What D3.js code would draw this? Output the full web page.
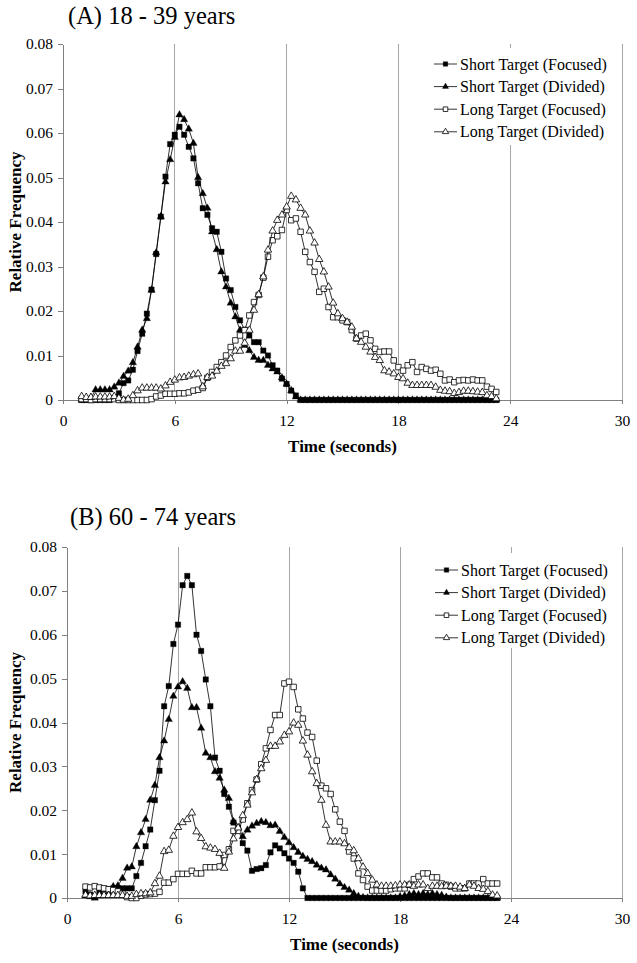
<!DOCTYPE html>
<html><head><meta charset="utf-8">
<script src="https://cdn.jsdelivr.net/npm/d3@7"></script>
<style>body{margin:0;background:#fff}svg{display:block}</style>
</head><body><svg id="c" width="637" height="963"></svg>
<script>
// time in seconds (0.25 s bins, 1.00 .. 23.25)
const times = d3.range(4, 94).map(i => i / 4);
const xTicks = [0, 6, 12, 18, 24, 30];
const yTicks = [0, 0.01, 0.02, 0.03, 0.04, 0.05, 0.06, 0.07, 0.08];
const seriesNames = ["Short Target (Focused)", "Short Target (Divided)", "Long Target (Focused)", "Long Target (Divided)"];
const panelTitles = ["(A) 18 - 39 years", "(B) 60 - 74 years"];

// Panel A : 18 - 39 years
const aShortFocused = [
 0,0,0,0, 0,0,0,0.0005, 0.0015,0.0038,0.0044,0.0068, 0.011,0.0149,0.0194,0.0248,
 0.0328,0.0412,0.0502,0.0575, 0.0596,0.0614,0.0596,0.0569, 0.0543,0.0487,0.0431,0.0416,
 0.0386,0.0378,0.0333,0.0273, 0.0247,0.0209,0.0179,0.0158, 0.0145,0.013,0.013,0.0111,
 0.01,0.0078,0.0066,0.0048, 0.0036,0.0021,0.001,0,
 0,0,0,0, 0,0,0,0, 0,0,0,0, 0,0,0,0, 0,0,0,0, 0,0,0,0, 0,0,0,0, 0,0,0,0, 0,0,0,0, 0,0,0,0, 0,0];
const aShortDivided = [
 0,0,0.0005,0.0023, 0.0023,0.0023,0.0023,0.0029, 0.0038,0.0053,0.0065,0.0084, 0.0119,0.0157,0.0183,0.0247,
 0.0331,0.0412,0.049,0.054, 0.059,0.0641,0.063,0.0609, 0.0577,0.05,0.0464,0.0431,
 0.0378,0.0338,0.0288,0.0254, 0.0218,0.0187,0.0157,0.0123, 0.0111,0.0096,0.0089,0.0089,
 0.0078,0.007,0.0063,0.005, 0.0036,0.0021,0.0007,0,
 0,0,0,0, 0,0,0,0, 0,0,0,0, 0,0,0,0, 0,0,0,0, 0,0,0,0, 0,0,0,0, 0,0,0,0, 0,0,0,0, 0,0,0,0, 0,0];
const aLongFocused = [
 0.0002,0.0002,0,0.0002, 0.0002,0.0002,0.0002,0.0002, 0,0,0,0, 0,0,0,0.0002,
 0.0008,0.001,0.0014,0.0014, 0.0014,0.0015,0.0015,0.0017, 0.0021,0.0023,0.0027,0.005,
 0.0063,0.0074,0.0085,0.01, 0.0119,0.0134,0.0145,0.0157, 0.019,0.022,0.0236,0.0275,
 0.0322,0.0359,0.0368,0.0382, 0.0427,0.0404,0.0408,0.0378, 0.0333,0.031,0.0288,0.0243,
 0.025,0.0209,0.0186,0.0186, 0.0179,0.0175,0.0157,0.0138, 0.0145,0.0149,0.0134,0.0115,
 0.0108,0.0109,0.0109,0.0089, 0.0074,0.0066,0.0078,0.0085, 0.0063,0.0074,0.007,0.0066,
 0.0068,0.0059,0.0044,0.0046, 0.004,0.0044,0.0045,0.0044, 0.0046,0.0044,0.0044,0.003, 0.0025,0.0018];
const aLongDivided = [
 0.0008,0.0006,0.0006,0.0007, 0.0007,0.0007,0.0007,0.0008, 0.0004,0,0.0002,0.001, 0.0021,0.0027,0.0027,0.0027,
 0.0027,0.0025,0.0032,0.004, 0.0045,0.005,0.0051,0.0054, 0.0057,0.0059,0.003,0.0051,
 0.0054,0.0065,0.0076,0.0082, 0.0093,0.011,0.011,0.0128, 0.0157,0.0202,0.0237,0.0277,
 0.0337,0.038,0.0404,0.0416, 0.0434,0.0458,0.045,0.0431, 0.0416,0.038,0.0353,0.0316,
 0.0288,0.0254,0.0218,0.0194, 0.0183,0.0175,0.0164,0.0138, 0.013,0.0119,0.0108,0.0096,
 0.0089,0.0066,0.0063,0.0059, 0.0051,0.0048,0.0038,0.0033, 0.0033,0.0033,0.0033,0.0033,
 0.0029,0.0022,0.002,0.0019, 0.0015,0.0017,0.002,0.002, 0.0019,0.0018,0.0017,0.001, 0.0008,0.0003];

// Panel B : 60 - 74 years
const bShortFocused = [
 0.0015,0.0008,0.0003,0.0015, 0.002,0.002,0.0022,0.0022, 0.0022,0.0022,0.0022,0.005, 0.008,0.0118,0.0156,0.0223,
 0.029,0.0437,0.0483,0.0579, 0.0623,0.0713,0.0734,0.0713, 0.06,0.0563,0.0498,0.0437,
 0.032,0.029,0.0237,0.0208, 0.0172,0.016,0.0125,0.0108, 0.0062,0.0066,0.0068,0.0075,
 0.0104,0.012,0.0113,0.0102, 0.009,0.008,0.006,0.0022,
 0,0,0,0, 0,0,0,0, 0,0,0,0, 0,0,0,0, 0,0,0,0, 0,0,0,0, 0,0,0,0, 0,0,0,0, 0,0,0,0, 0,0,0,0, 0,0];
const bShortDivided = [
 0.0005,0.0003,0,0.0005, 0.0008,0.0012,0.0026,0.0028, 0.0045,0.0068,0.0071,0.0117, 0.0149,0.0179,0.0223,0.0257,
 0.032,0.0358,0.0407,0.046, 0.0481,0.0493,0.0478,0.0434, 0.0434,0.0387,0.033,0.032,
 0.0288,0.0273,0.0246,0.0227, 0.0174,0.016,0.014,0.0155, 0.0164,0.017,0.0174,0.0172,
 0.0165,0.0166,0.0152,0.0138, 0.0126,0.0115,0.0104,0.0095, 0.0088,0.0083,0.0075,0.0068,
 0.0064,0.0053,0.0043,0.0032, 0.0024,0.0018,0.001,0.0004, 0.0001,0,0,0, 0,0,0,0,
 0.0003,0.0005,0.0008,0.001, 0.0008,0.001,0.0008,0.001, 0.0008,0.0006,0.0002,0,
 0,0,0,0, 0,0,0,0, 0,0];
const bLongFocused = [
 0.0026,0.0024,0.0027,0.0024, 0.0022,0.002,0.0018,0.0015, 0.001,0.0002,0,0, 0.0005,0.0008,0.0009,0.001,
 0.0014,0.0035,0.0035,0.0043, 0.0055,0.0055,0.0055,0.0062, 0.0056,0.0056,0.007,0.007,
 0.007,0.0072,0.0098,0.0111, 0.0153,0.0153,0.0179,0.0216, 0.0246,0.027,0.0305,0.0341,
 0.0383,0.0417,0.0417,0.0489, 0.0493,0.0481,0.043,0.0409, 0.0377,0.0367,0.0313,0.0256,
 0.025,0.0237,0.0202,0.0174, 0.0153,0.0106,0.009,0.0056, 0.0041,0.0026,0.0017,0.0017,
 0.0017,0.0017,0.002,0.0022, 0.0022,0.0022,0.003,0.0043, 0.0049,0.0056,0.0056,0.0047,
 0.0047,0.0033,0.003,0.0026, 0.0022,0.0022,0.0022,0.0033, 0.0033,0.0033,0.0043,0.0033, 0.0033,0.0033];
const bLongDivided = [
 0.0007,0.0005,0.0006,0.0006, 0.0006,0.0006,0.0006,0.0006, 0.0006,0.0004,0.0004,0.0008, 0.001,0.001,0.0012,0.0033,
 0.005,0.0106,0.0109,0.0141, 0.0161,0.0172,0.0179,0.0194, 0.0151,0.0136,0.0117,0.0114,
 0.0111,0.0102,0.0068,0.0105, 0.0135,0.016,0.0188,0.0212, 0.024,0.027,0.0295,0.0314,
 0.0346,0.0346,0.0356,0.0371, 0.0379,0.0399,0.0394,0.0358, 0.0326,0.0288,0.0261,0.0223,
 0.0166,0.0128,0.0128,0.0128, 0.0124,0.0115,0.0108,0.009, 0.0071,0.0056,0.0041,0.003,
 0.0027,0.0027,0.0027,0.0028, 0.003,0.003,0.003,0.0027, 0.003,0.003,0.0022,0.0027,
 0.0027,0.0026,0.0027,0.0027, 0.0027,0.0025,0.0022,0.003, 0.0027,0.0022,0.002,0.0015, 0.0007,0.0005];

const FONT = "'Liberation Serif', 'Tinos', 'Times New Roman', 'DejaVu Serif', serif";

const markerTypes = [
 {shape: d3.symbolSquare, fill: "#000", size: 30},
 {shape: d3.symbolTriangle, fill: "#000", size: 24},
 {shape: d3.symbolSquare, fill: "#fff", size: 30},
 {shape: d3.symbolTriangle, fill: "#fff", size: 24}
];

const svg = d3.select("#c");

function drawPanel(cfg) {
  const g = svg.append("g").attr("font-family", FONT);
  const x = d3.scaleLinear().domain([0, 30]).range([cfg.left, cfg.right]);
  const y = d3.scaleLinear().domain([0, 0.08]).range([cfg.bottom, cfg.top]);

  // vertical gridlines
  g.append("g").selectAll("line").data(xTicks.filter(d => d > 0)).join("line")
    .attr("x1", d => x(d)).attr("x2", d => x(d))
    .attr("y1", y(0.08)).attr("y2", y(0))
    .attr("stroke", "#a6a6a6").attr("stroke-width", 1).attr("shape-rendering", "crispEdges");

  // axes
  const yAxis = d3.axisLeft(y).tickValues(yTicks).tickSize(5).tickSizeOuter(0).tickPadding(5)
    .tickFormat(d => d === 0 ? "0" : d3.format(".2f")(d));
  const ya = g.append("g").attr("transform", `translate(${cfg.left},0)`).call(yAxis);
  const xAxis = d3.axisBottom(x).tickValues(xTicks).tickSize(4).tickSizeOuter(0).tickPadding(11);
  const xa = g.append("g").attr("transform", `translate(0,${cfg.bottom})`).call(xAxis);
  [ya, xa].forEach(a => {
    a.attr("font-family", FONT).attr("font-size", 15.5);
    a.select(".domain").attr("stroke", "#808080").attr("shape-rendering", "crispEdges");
    a.selectAll(".tick line").attr("stroke", "#808080").attr("shape-rendering", "crispEdges");
    a.selectAll("text").attr("fill", "#000");
  });

  // series
  cfg.series.forEach((vals, si) => {
    const pts = times.map((t, i) => [t, vals[i]]);
    const line = d3.line().x(d => x(d[0])).y(d => y(d[1]));
    g.append("path").datum(pts).attr("d", line)
      .attr("fill", "none").attr("stroke", "#000").attr("stroke-width", 0.8);
    const m = markerTypes[si];
    const sym = d3.symbol().type(m.shape).size(m.size);
    g.append("g").selectAll("path").data(pts).join("path")
      .attr("d", sym)
      .attr("transform", d => `translate(${x(d[0])},${y(d[1])})`)
      .attr("fill", m.fill).attr("stroke", "#000").attr("stroke-width", m.fill === "#000" ? 0.3 : 0.8);
  });

  // legend (white box hiding gridline)
  const lg = g.append("g");
  lg.append("rect").attr("x", cfg.legX - 8).attr("y", cfg.legTop).attr("width", 192).attr("height", cfg.legH).attr("fill", "#fff");
  seriesNames.forEach((name, i) => {
    const cy = cfg.legRow0 + i * cfg.legStep;
    lg.append("line").attr("x1", cfg.legX).attr("x2", cfg.legX + 23).attr("y1", cy).attr("y2", cy)
      .attr("stroke", "#000").attr("stroke-width", 0.8);
    const m = markerTypes[i];
    lg.append("path").attr("d", d3.symbol().type(m.shape).size(m.size * 0.7))
      .attr("transform", `translate(${cfg.legX + 11.5},${cy})`)
      .attr("fill", m.fill).attr("stroke", "#000").attr("stroke-width", m.fill === "#000" ? 0.3 : 0.8);
    lg.append("text").attr("x", cfg.legX + 26).attr("y", cy + 5.5).attr("font-size", 16).text(name);
  });

  // titles
  g.append("text").attr("x", cfg.titleX).attr("y", cfg.titleY).attr("font-size", 24.5).text(cfg.title);
  g.append("text").attr("x", (cfg.left + cfg.right) / 2).attr("y", cfg.bottom + 52)
    .attr("text-anchor", "middle").attr("font-size", 17).attr("font-weight", "bold").text("Time (seconds)");
  g.append("text").attr("transform", `translate(21,${(cfg.top + cfg.bottom) / 2}) rotate(-90)`)
    .attr("text-anchor", "middle").attr("font-size", 17).attr("font-weight", "bold").text("Relative Frequency");
}

drawPanel({title: panelTitles[0], series: [aShortFocused, aShortDivided, aLongFocused, aLongDivided],
  left: 63, right: 622, top: 44, bottom: 400, titleX: 68, titleY: 24,
  legX: 434, legTop: 48, legH: 97, legRow0: 64, legStep: 22.6});
drawPanel({title: panelTitles[1], series: [bShortFocused, bShortDivided, bLongFocused, bLongDivided],
  left: 67, right: 622, top: 547, bottom: 898, titleX: 70, titleY: 525,
  legX: 435, legTop: 553, legH: 95, legRow0: 570, legStep: 22.6});
</script></body></html>
